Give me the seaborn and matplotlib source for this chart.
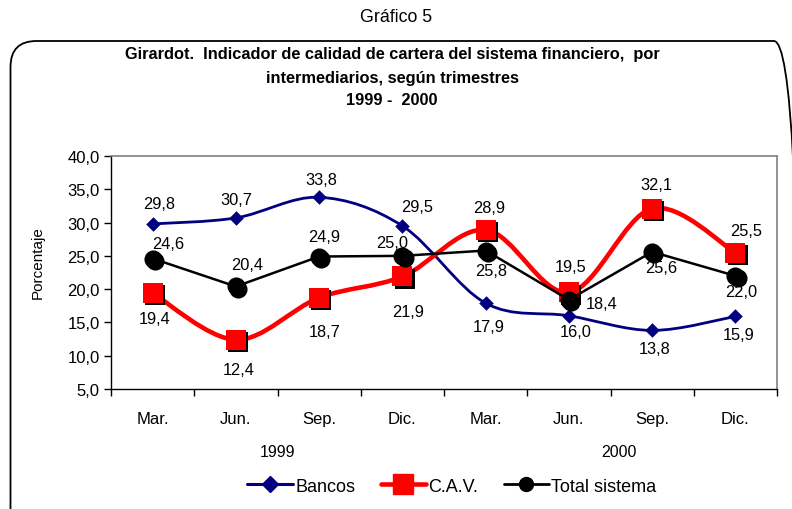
import numpy as np
import pandas as pd
import seaborn as sns
import matplotlib
matplotlib.use("Agg")
import matplotlib.pyplot as plt
from matplotlib.path import Path
from matplotlib.patches import PathPatch, FancyBboxPatch
from matplotlib.lines import Line2D
import matplotlib.transforms as mtransforms

# ---- data ----
quarters = ["Mar.", "Jun.", "Sep.", "Dic.", "Mar.", "Jun.", "Sep.", "Dic."]
years = ["1999", "2000"]
bancos = [29.8, 30.7, 33.8, 29.5, 17.9, 16.0, 13.8, 15.9]
cav = [19.4, 12.4, 18.7, 21.9, 28.9, 19.5, 32.1, 25.5]
total = [24.6, 20.4, 24.9, 25.0, 25.8, 18.4, 25.6, 22.0]
series_names = ["Bancos", "C.A.V.", "Total sistema"]
yticks = [5.0, 10.0, 15.0, 20.0, 25.0, 30.0, 35.0, 40.0]

sns.set_theme(style="white")
plt.rcParams['font.family'] = ['Liberation Sans', 'DejaVu Sans']
plt.rcParams['text.color'] = 'black'
plt.rcParams['axes.labelcolor'] = 'black'
plt.rcParams['xtick.color'] = 'black'
plt.rcParams['ytick.color'] = 'black'

idx = np.arange(len(quarters))
df = pd.DataFrame({"x": idx, "Bancos": bancos, "C.A.V.": cav, "Total sistema": total})

W, H = 792, 510
fig = plt.figure(figsize=(W / 100, H / 100), dpi=100)
ax = fig.add_axes([111 / W, 1 - 390 / H, (777 - 111) / W, (390 - 157) / H])

# rounded frame (pixel-based via inches)
frame = FancyBboxPatch((10.5 / 100, -0.5), (800 - 10.5) / 100, (H - 42) / 100 + 0.5,
                       boxstyle="round,pad=0,rounding_size=0.26", transform=fig.dpi_scale_trans,
                       fill=False, ec="black", lw=1.3)
fig.patches.append(frame)

fig.text(0.5, 1 - 18 / H, "Gráfico 5", ha="center", va="center", fontsize=12.8)
title_lines = ["Girardot.  Indicador de calidad de cartera del sistema financiero,  por",
               "intermediarios, según trimestres",
               "1999 -  2000"]
for k, t in enumerate(title_lines):
    fig.text(392 / W, 1 - (55 + 23 * k) / H, t, ha="center", va="center",
             fontsize=11.8, fontweight="bold")


def smooth_path(xs, ys):
    P = np.column_stack([xs, ys]).astype(float)
    n = len(P)
    verts = [P[0]]
    codes = [Path.MOVETO]
    for i in range(n - 1):
        p0 = P[i - 1] if i > 0 else P[i]
        p3 = P[i + 2] if i + 2 < n else P[i + 1]
        c1 = P[i] + (P[i + 1] - p0) / 6.0
        c2 = P[i + 1] - (p3 - P[i]) / 6.0
        verts += [c1, c2, P[i + 1]]
        codes += [Path.CURVE4] * 3
    return Path(verts, codes)


shadow = ax.transData + mtransforms.ScaledTranslation(2.2 / 100, -2.2 / 100, fig.dpi_scale_trans)

# Bancos (smoothed)
ax.add_patch(PathPatch(smooth_path(df["x"], df["Bancos"]), fill=False, ec="#000080", lw=2.0, zorder=2))
sns.scatterplot(data=df, x="x", y="Bancos", marker="D", s=55, color="#000080", linewidth=0, ax=ax, zorder=3)

# C.A.V. (smoothed)
ax.add_patch(PathPatch(smooth_path(df["x"], df["C.A.V."]), fill=False, ec="#FF0000", lw=3.3, zorder=4))
sns.scatterplot(data=df, x="x", y="C.A.V.", marker="s", s=190, color="black", linewidth=0, ax=ax,
                zorder=5, transform=shadow)
sns.scatterplot(data=df, x="x", y="C.A.V.", marker="s", s=190, color="#FF0000", linewidth=0, ax=ax, zorder=6)

# Total sistema (straight)
sns.lineplot(data=df, x="x", y="Total sistema", color="black", lw=1.8, ax=ax, zorder=7)
sns.scatterplot(data=df, x="x", y="Total sistema", marker="o", s=170, color="black", linewidth=0, ax=ax,
                zorder=8, transform=shadow)
sns.scatterplot(data=df, x="x", y="Total sistema", marker="o", s=170, color="black", linewidth=0, ax=ax, zorder=9)

# data labels (pixel offsets)
off_b = [(7, 20), (0, 18), (2, 18), (15, 19), (3, -23), (7, -16), (2, -18), (3, -18)]
off_c = [(2, -25), (3, -30), (6, -34), (6, -35), (3, 22), (2, 26), (4, 24), (11, 22)]
off_t = [(16, 15), (11, 22), (5, 20), (-10, 13), (5, -20), (33, -4), (9, -16), (6, -16)]
for vals, offs in ((bancos, off_b), (cav, off_c), (total, off_t)):
    for i, v in enumerate(vals):
        ax.annotate(f"{v:.1f}".replace(".", ","), (idx[i], v), xytext=offs[i],
                    textcoords="offset pixels", ha="center", va="center", fontsize=11.8,
                    color="black", zorder=10)

ax.set_xlim(-0.5, len(quarters) - 0.5)
ax.set_ylim(5, 40)
ax.set_yticks(yticks)
ax.set_yticklabels([f"{v:.1f}".replace(".", ",") for v in yticks], fontsize=12)
ax.set_xticks(np.arange(-0.5, len(quarters), 1.0))
ax.set_xticklabels([])
ax.set_xticks(idx, minor=True)
ax.set_xticklabels(quarters, minor=True, fontsize=12)
ax.tick_params(axis="x", which="major", direction="out", length=5, width=1, color="black", bottom=True)
ax.tick_params(axis="x", which="minor", length=0, pad=16)
ax.tick_params(axis="y", direction="out", length=5, width=1, color="black", left=True, pad=3)
ax.set_xlabel("")
ax.set_ylabel("")
fig.text(38 / W, 1 - 263 / H, "Porcentaje", rotation=90, ha="center", va="center", fontsize=11)
for s in ("top", "right"):
    ax.spines[s].set_color("#808080")
    ax.spines[s].set_linewidth(1.2)
for s in ("left", "bottom"):
    ax.spines[s].set_color("black")
    ax.spines[s].set_linewidth(1.0)

ax.text(1.5, -(453 - 390) / 233, years[0], transform=ax.get_xaxis_transform(), ha="center", va="center", fontsize=11.5)
ax.text(5.6, -(453 - 390) / 233, years[1], transform=ax.get_xaxis_transform(), ha="center", va="center", fontsize=11.5)

handles = [
    Line2D([], [], color="#000080", lw=2.2, marker="D", markersize=8),
    Line2D([], [], color="#FF0000", lw=3.3, marker="s", markersize=15),
    Line2D([], [], color="black", lw=2.0, marker="o", markersize=10),
]
fig.legend(handles, series_names, loc="center", bbox_to_anchor=(452 / W, 1 - 487 / H), ncol=3,
           frameon=False, fontsize=13, handlelength=2.5, handletextpad=0.15, columnspacing=1.4)

fig.savefig("out.png", dpi=100)
